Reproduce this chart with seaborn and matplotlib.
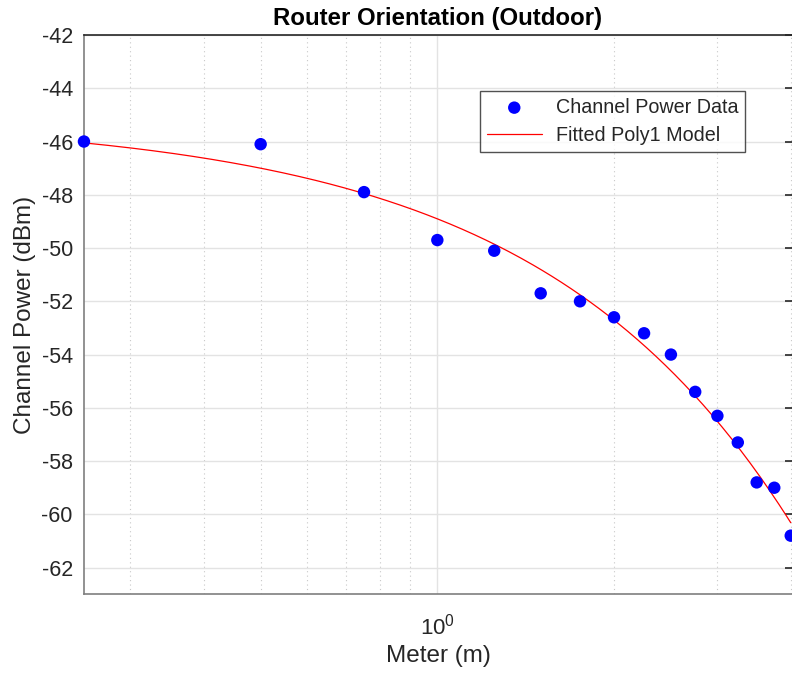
import numpy as np
import pandas as pd
import matplotlib
matplotlib.use("Agg")
import matplotlib.pyplot as plt
import seaborn as sns
from matplotlib.ticker import LogLocator, NullFormatter, FixedLocator

# distance (m) and measured channel power (dBm)
meters = [0.25, 0.5, 0.75, 1.0, 1.25, 1.5, 1.75, 2.0, 2.25, 2.5, 2.75, 3.0, 3.25, 3.5, 3.75, 4.0]
power = [-46.0, -46.1, -47.9, -49.7, -50.1, -51.7, -52.0, -52.6, -53.2, -54.0, -55.4, -56.3, -57.3, -58.8, -59.0, -60.8]

y_ticks = [-62, -60, -58, -56, -54, -52, -50, -48, -46, -44, -42]

df = pd.DataFrame({"meter": meters, "power": power})

# poly1 fit (linear in meters)
p1, p2 = np.polyfit(df["meter"], df["power"], 1)
x_fit = np.geomspace(min(meters), max(meters), 300)
fit_df = pd.DataFrame({"meter": x_fit, "power": p1 * x_fit + p2})

sns.set_style("white")
plt.rcParams["font.family"] = ["Liberation Sans", "DejaVu Sans"]
plt.rcParams["axes.unicode_minus"] = False

fig = plt.figure(figsize=(7.92, 6.73), dpi=100)
ax = fig.add_axes([0.106, 0.117, 0.894, 0.831])

sns.scatterplot(data=df, x="meter", y="power", ax=ax, color="#0000ff", s=80,
                edgecolor="none", label="Channel Power Data", zorder=3, clip_on=False)
sns.lineplot(data=fit_df, x="meter", y="power", ax=ax, color="#ff0000", lw=0.9,
             label="Fitted Poly1 Model", zorder=2)

ax.set_xscale("log")
ax.set_xlim(0.25, 4.02)
ax.set_ylim(-63, -42)
ax.set_yticks(y_ticks)
ax.xaxis.set_major_locator(FixedLocator([1.0]))
ax.xaxis.set_minor_locator(LogLocator(base=10, subs=np.arange(2, 10) * 1.0))
ax.xaxis.set_minor_formatter(NullFormatter())

ax.grid(True, which="major", color="#e3e3e3", lw=1)
ax.grid(True, which="minor", axis="x", color="#c8c8c8", lw=0.8, linestyle=(0, (1, 3)))
ax.set_axisbelow(True)

ax.tick_params(axis="both", which="both", direction="in", colors="#262626",
               labelsize=15.5, length=5, width=1.2, top=False, right=False)
ax.tick_params(axis="y", right=True, labelright=False, pad=8)
ax.tick_params(axis="x", which="major", labelsize=16, pad=14)
for side in ["left", "bottom", "top"]:
    ax.spines[side].set_color("#262626")
    ax.spines[side].set_linewidth(1.2)
ax.spines["left"].set_color("#7f7f7f")
ax.spines["bottom"].set_color("#7f7f7f")
ax.spines["right"].set_visible(False)

ax.set_title("Router Orientation (Outdoor)", fontsize=17.3, fontweight="bold",
             color="black", pad=7)
ax.set_xlabel("Meter (m)", fontsize=17.5, color="#262626", labelpad=4)
ax.set_ylabel("Channel Power (dBm)", fontsize=17.5, color="#262626", labelpad=4)

leg = ax.legend(loc="upper left", bbox_to_anchor=(0.559, 0.900), borderaxespad=0,
                fontsize=14.2, frameon=True, fancybox=False, edgecolor="#262626",
                borderpad=0.35, handlelength=2.8, handletextpad=0.7, labelspacing=0.45)
leg.get_frame().set_linewidth(1.0)

fig.savefig("out.png", dpi=100)
